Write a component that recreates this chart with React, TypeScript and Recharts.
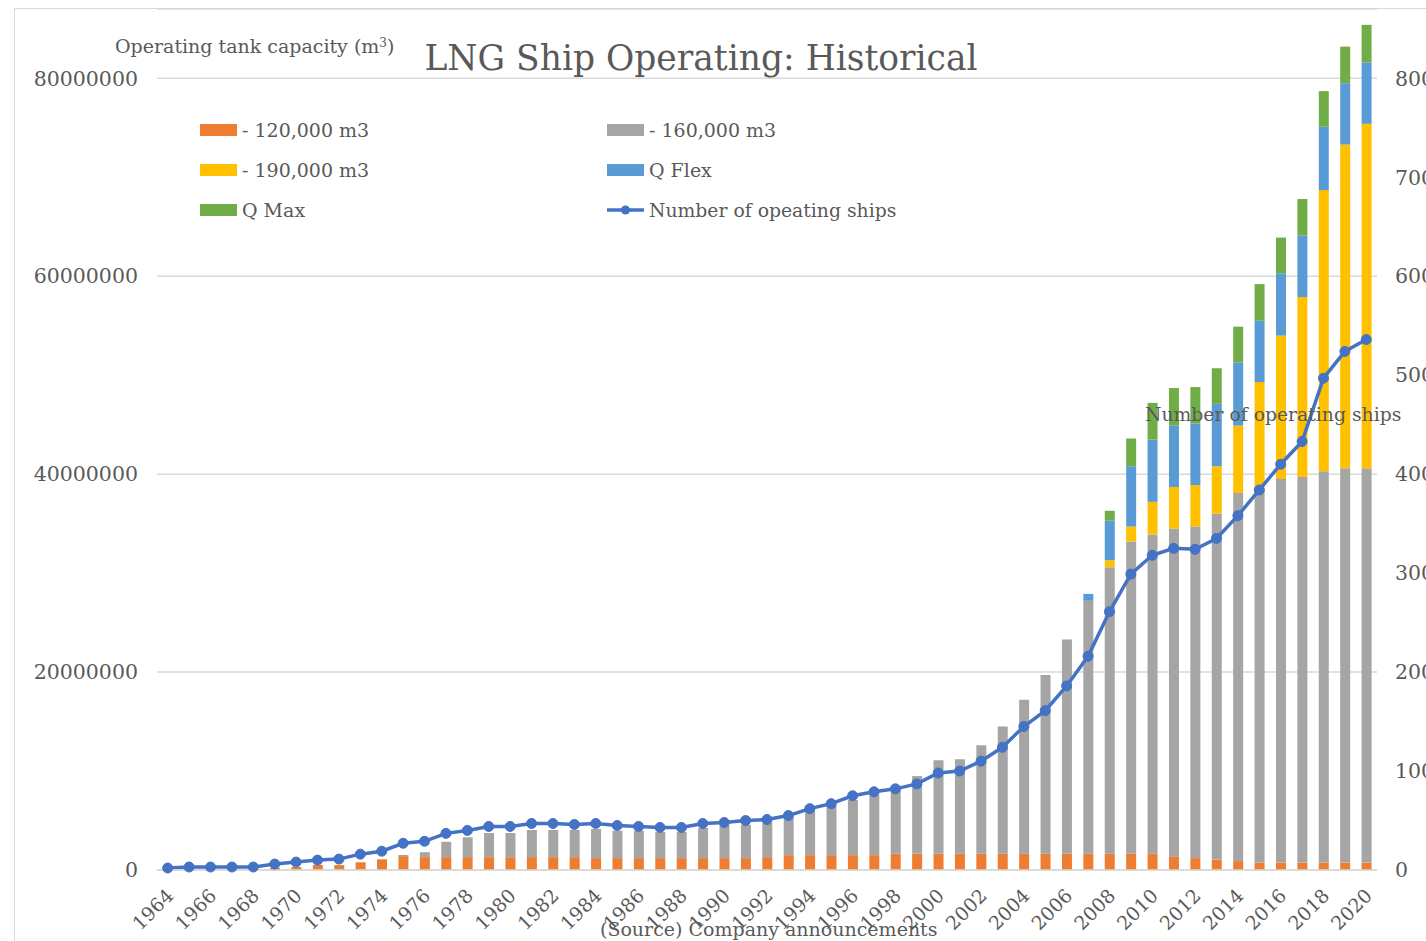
import React from 'react';
import { ComposedChart, Bar, Line, XAxis, YAxis, CartesianGrid } from 'recharts';

// years on the category axis
const years = [
  '1964', '1965', '1966', '1967', '1968', '1969', '1970', '1971', '1972', '1973',
  '1974', '1975', '1976', '1977', '1978', '1979', '1980', '1981', '1982', '1983',
  '1984', '1985', '1986', '1987', '1988', '1989', '1990', '1991', '1992', '1993',
  '1994', '1995', '1996', '1997', '1998', '1999', '2000', '2001', '2002', '2003',
  '2004', '2005', '2006', '2007', '2008', '2009', '2010', '2011', '2012', '2013',
  '2014', '2015', '2016', '2017', '2018', '2019', '2020',
];

// operating tank capacity by ship size, in millions of m3
const upTo120k = [
  0, 0, 0, 0, 0, 0.2, 0.3, 0.5, 0.5, 0.78,
  1.08, 1.4, 1.3, 1.3, 1.3, 1.3, 1.3, 1.3, 1.3, 1.3,
  1.2, 1.2, 1.2, 1.2, 1.2, 1.2, 1.2, 1.2, 1.3, 1.5,
  1.5, 1.5, 1.5, 1.5, 1.65, 1.65, 1.65, 1.65, 1.65, 1.65,
  1.65, 1.65, 1.65, 1.65, 1.65, 1.65, 1.65, 1.35, 1.2, 1.05,
  0.9, 0.75, 0.75, 0.75, 0.75, 0.75, 0.75,
];
const upTo160k = [
  0, 0, 0, 0, 0, 0, 0, 0, 0, 0,
  0, 0.12, 0.5, 1.55, 2.0, 2.44, 2.44, 2.74, 2.74, 2.74,
  2.94, 2.77, 2.77, 2.64, 2.64, 3.04, 3.31, 3.38, 3.51, 3.82,
  4.49, 4.96, 5.57, 6.11, 6.45, 7.84, 9.43, 9.55, 10.95, 12.85,
  15.55, 18.05, 21.65, 25.55, 28.95, 31.55, 32.25, 33.15, 33.5, 34.95,
  37.2, 37.85, 38.75, 38.95, 39.55, 39.85, 39.85,
];
const upTo190k = [
  0, 0, 0, 0, 0, 0, 0, 0, 0, 0,
  0, 0, 0, 0, 0, 0, 0, 0, 0, 0,
  0, 0, 0, 0, 0, 0, 0, 0, 0, 0,
  0, 0, 0, 0, 0, 0, 0, 0, 0, 0,
  0, 0, 0, 0, 0.7, 1.5, 3.3, 4.2, 4.2, 4.8,
  6.8, 10.7, 14.5, 18.2, 28.4, 32.7, 34.8,
];
const qFlex = [
  0, 0, 0, 0, 0, 0, 0, 0, 0, 0,
  0, 0, 0, 0, 0, 0, 0, 0, 0, 0,
  0, 0, 0, 0, 0, 0, 0, 0, 0, 0,
  0, 0, 0, 0, 0, 0, 0, 0, 0, 0,
  0, 0, 0, 0.7, 4.0, 6.1, 6.3, 6.2, 6.2, 6.3,
  6.4, 6.2, 6.3, 6.2, 6.4, 6.2, 6.2,
];
const qMax = [
  0, 0, 0, 0, 0, 0, 0, 0, 0, 0,
  0, 0, 0, 0, 0, 0, 0, 0, 0, 0,
  0, 0, 0, 0, 0, 0, 0, 0, 0, 0,
  0, 0, 0, 0, 0, 0, 0, 0, 0, 0,
  0, 0, 0, 0, 1.0, 2.8, 3.7, 3.8, 3.7, 3.6,
  3.6, 3.7, 3.6, 3.7, 3.6, 3.7, 3.8,
];

// number of operating ships
const ships = [
  2, 3, 3, 3, 3, 6, 8, 10, 11, 16,
  19, 27, 29, 37, 40, 44, 44, 47, 47, 46,
  47, 45, 44, 43, 43, 47, 48, 50, 51, 55,
  62, 67, 75, 79, 82, 87, 98, 100, 110, 124,
  145, 161, 186, 216, 261, 299, 318, 325, 324, 335,
  358, 384, 410, 433, 497, 524, 536,
];

const leftTicks = [0, 20000000, 40000000, 60000000, 80000000];
const rightTicks = [0, 100, 200, 300, 400, 500, 600, 700, 800];

const M = 1000000;
const data = years.map((year, i) => ({
  year,
  s120: upTo120k[i] * M,
  s160: upTo160k[i] * M,
  s190: upTo190k[i] * M,
  qflex: qFlex[i] * M,
  qmax: qMax[i] * M,
  ships: ships[i],
}));

const FONT = '"DejaVu Serif", serif';
const TXT = '#595959';

const YearTick = (props: any) => {
  const { x, y, payload } = props;
  const px = x + 7;
  const py = y + 27;
  return (
    <text x={px} y={py} transform={`rotate(-45, ${px}, ${py})`} textAnchor="end"
      fontFamily={FONT} fontSize={19} fill={TXT}>
      {payload.value}
    </text>
  );
};

const legendItems = [
  { label: '- 120,000 m3', color: '#ED7D31', x: 200, y: 130 },
  { label: '- 160,000 m3', color: '#A5A5A5', x: 607, y: 130 },
  { label: '- 190,000 m3', color: '#FFC000', x: 200, y: 170 },
  { label: 'Q Flex', color: '#5B9BD5', x: 607, y: 170 },
  { label: 'Q Max', color: '#70AD47', x: 200, y: 210 },
];

export default function App() {
  const text: React.CSSProperties = { position: 'absolute', fontFamily: FONT, color: TXT, whiteSpace: 'nowrap', lineHeight: 1 };
  return (
    <div style={{ position: 'absolute', left: 0, top: 0, width: 1426, height: 941, overflow: 'hidden', background: '#fff' }}>
      <div style={{ position: 'absolute', left: 14, top: 8, width: 1500, height: 1000, borderLeft: '1px solid #d9d9d9', borderTop: '1px solid #d9d9d9' }} />
      <div style={{ position: 'absolute', left: 0, top: 0 }}>
        <ComposedChart width={1460} height={960} data={data} margin={{ top: 9, right: 23, bottom: 0, left: 0 }} barSize={10}>
          <CartesianGrid yAxisId="left" vertical={false} stroke="#d9d9d9" strokeWidth={1.5} />
          <XAxis dataKey="year" interval={1} tick={<YearTick />} tickLine={false} tickSize={0} tickMargin={0}
            height={90} axisLine={{ stroke: '#d9d9d9', strokeWidth: 1.5 }} />
          <YAxis yAxisId="left" width={157} domain={[0, 87000000]} ticks={leftTicks} tickSize={0} tickMargin={19}
            axisLine={false} tickLine={false} tick={{ fontFamily: FONT, fontSize: 20.5, fill: TXT }} />
          <YAxis yAxisId="right" orientation="right" width={60} domain={[0, 870]} ticks={rightTicks} tickSize={0} tickMargin={18}
            axisLine={false} tickLine={false} tick={{ fontFamily: FONT, fontSize: 20.5, fill: TXT, textAnchor: 'start' }} />
          <Bar yAxisId="left" dataKey="s120" stackId="cap" fill="#ED7D31" isAnimationActive={false} />
          <Bar yAxisId="left" dataKey="s160" stackId="cap" fill="#A5A5A5" isAnimationActive={false} />
          <Bar yAxisId="left" dataKey="s190" stackId="cap" fill="#FFC000" isAnimationActive={false} />
          <Bar yAxisId="left" dataKey="qflex" stackId="cap" fill="#5B9BD5" isAnimationActive={false} />
          <Bar yAxisId="left" dataKey="qmax" stackId="cap" fill="#70AD47" isAnimationActive={false} />
          <Line yAxisId="right" dataKey="ships" stroke="#4472C4" strokeWidth={3.5} isAnimationActive={false}
            dot={{ r: 5, fill: '#4472C4', stroke: '#4472C4', strokeWidth: 1 }} />
        </ComposedChart>
      </div>

      <div style={{ ...text, left: 115, top: 37, fontSize: 19 }}>Operating tank capacity (m<sup style={{ fontSize: 12, verticalAlign: 'top', lineHeight: 1 }}>3</sup>)</div>
      <div style={{ ...text, left: 0, width: 1402, top: 41, fontSize: 34.5, textAlign: 'center' }}>LNG Ship Operating: Historical</div>

      {legendItems.map((it) => (
        <div key={it.label} style={{ position: 'absolute', left: it.x, top: it.y - 12, height: 24, display: 'flex', alignItems: 'center' }}>
          <span style={{ display: 'inline-block', width: 37, height: 12, background: it.color, marginRight: 5 }} />
          <span style={{ fontFamily: FONT, color: TXT, fontSize: 19, whiteSpace: 'nowrap' }}>{it.label}</span>
        </div>
      ))}
      <div style={{ position: 'absolute', left: 607, top: 198, height: 24, display: 'flex', alignItems: 'center' }}>
        <svg width={37} height={12} style={{ marginRight: 5 }}>
          <line x1={0} y1={6} x2={37} y2={6} stroke="#4472C4" strokeWidth={3.5} />
          <circle cx={18.5} cy={6} r={4.5} fill="#4472C4" />
        </svg>
        <span style={{ fontFamily: FONT, color: TXT, fontSize: 18.8, whiteSpace: 'nowrap' }}>Number of opeating ships</span>
      </div>

      <div style={{ ...text, left: 1145, top: 406, fontSize: 18.8 }}>Number of operating ships</div>
      <div style={{ ...text, left: 600, top: 920, fontSize: 19 }}>(Source) Company announcements</div>
    </div>
  );
}
